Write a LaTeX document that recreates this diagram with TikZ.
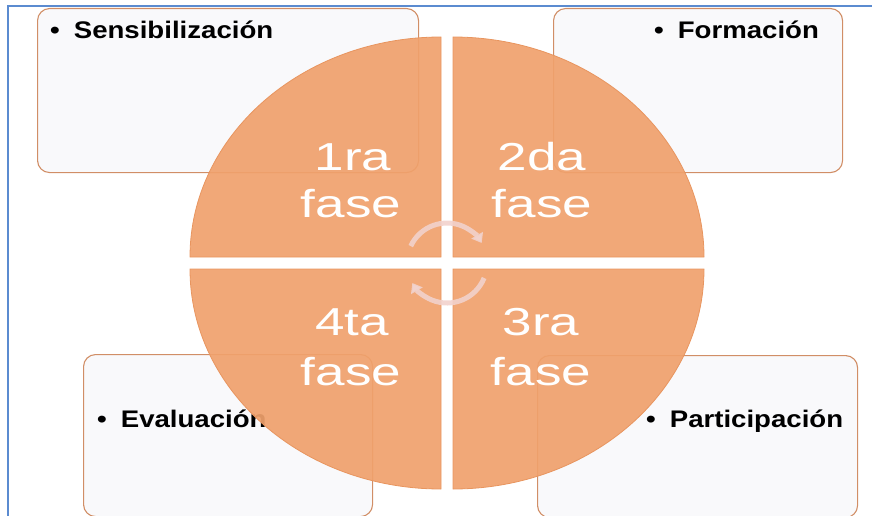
\documentclass[tikz,border=0pt]{standalone}
\usepackage{fontspec}
\setmainfont{Liberation Sans}
\newfontfamily\cajafont[FakeStretch=1.15]{Liberation Sans}
\newfontfamily\fasefont[FakeStretch=1.36]{Liberation Sans}
\usetikzlibrary{arrows.meta}

\definecolor{fasecolor}{HTML}{F0A16C}
\definecolor{faseborde}{HTML}{E8955F}
\definecolor{cajafondo}{HTML}{F9F9FB}
\definecolor{cajaborde}{HTML}{D18E66}
\definecolor{marcoazul}{HTML}{5B8BD0}
\definecolor{flechacolor}{HTML}{F2D2CC}

\tikzset{caja/.style={draw=cajaborde,fill=cajafondo,line width=1.1pt,rounded corners=12pt,anchor=north west,inner sep=0pt},
cajatexto/.style={font=\cajafont\bfseries\fontsize{24}{28}\selectfont,anchor=base west,inner sep=0pt,text=black},
fase/.style={fill=fasecolor,fill opacity=0.92,draw=faseborde,line width=0.8pt},
fasetexto/.style={font=\fasefont\fontsize{39}{47}\selectfont,anchor=base,inner sep=0pt,text=white},
flecha/.style={draw=flechacolor,draw opacity=0.9,line width=5pt,-{Triangle[width=13pt,length=9pt]}},
marco/.style={draw=marcoazul,line width=1.8pt}}

\begin{document}
\begin{tikzpicture}[x=1pt,y=-1pt]
\useasboundingbox (0,0) rectangle (872,516);

%% frame
\draw [marco] (8,516) -- (8,6) -- (872,6);

%% boxes
\node [caja,minimum width=381pt,minimum height=164pt] (caja1) at (37,8) {};
\node [caja,minimum width=289pt,minimum height=164pt] (caja2) at (553,8) {};
\node [caja,minimum width=320pt,minimum height=162pt] (caja3) at (537,355) {};
\node [caja,minimum width=289pt,minimum height=162pt] (caja4) at (83,354) {};

%% box labels
\node [cajatexto] (t1) at (50,39) {\textbullet\hspace{14pt}Sensibilización};
\node [cajatexto] (t2) at (654,39) {\textbullet\hspace{14pt}Formación};
\node [cajatexto] (t3) at (646,427) {\textbullet\hspace{14pt}Participación};
\node [cajatexto] (t4) at (97,427) {\textbullet\hspace{14pt}Evaluación};

%% quadrants
\coordinate (q1) at (441,257);
\coordinate (q2) at (453,257);
\coordinate (q3) at (453,269);
\coordinate (q4) at (441,269);
\path [fase] (q1) -- ++(-251,0) arc [start angle=180,end angle=270,x radius=251,y radius=220] -- cycle;
\path [fase] (q2) -- ++(0,-220) arc [start angle=270,end angle=360,x radius=251,y radius=220] -- cycle;
\path [fase] (q3) -- ++(251,0) arc [start angle=0,end angle=90,x radius=251,y radius=220] -- cycle;
\path [fase] (q4) -- ++(0,220) arc [start angle=90,end angle=180,x radius=251,y radius=220] -- cycle;

%% quadrant labels
\node [fasetexto] (f1a) at (353,170) {1ra};
\node [fasetexto] (f1b) at (351,217) {fase};
\node [fasetexto] (f2a) at (542,170) {2da};
\node [fasetexto] (f2b) at (542,217) {fase};
\node [fasetexto] (f3a) at (541,335) {3ra};
\node [fasetexto] (f3b) at (541,385) {fase};
\node [fasetexto] (f4a) at (352,335) {4ta};
\node [fasetexto] (f4b) at (351,385) {fase};

%% cycle arrows
\coordinate (centro) at (447,263);
\draw [flecha] (centro) ++(205:40) arc [start angle=205,end angle=330,radius=40];
\draw [flecha] (centro) ++(22:40) arc [start angle=22,end angle=150,radius=40];

\end{tikzpicture}
\end{document}
